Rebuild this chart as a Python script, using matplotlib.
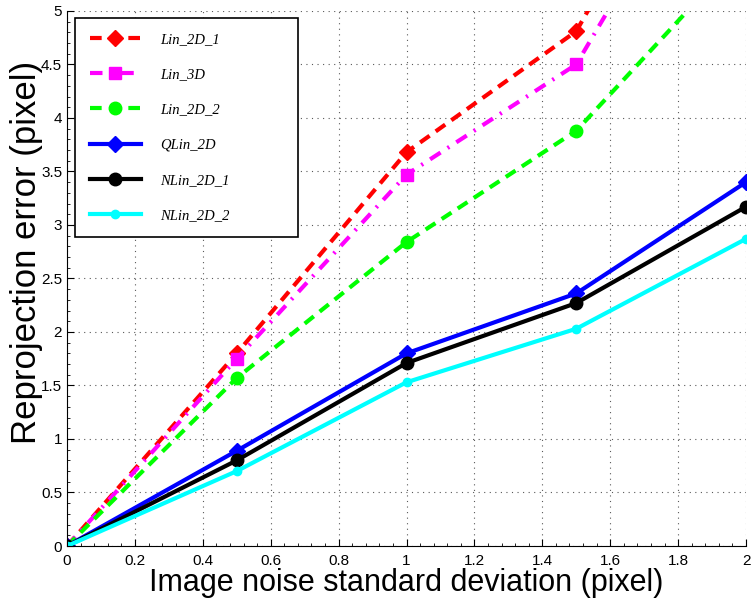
import matplotlib as mpl
import matplotlib.pyplot as plt
from matplotlib.ticker import MultipleLocator

# noise std (pixel)
noise = [0, 0.5, 1.0, 1.5, 2.0]

lin_2d_1 = [0, 1.80, 3.68, 4.81, 7.6]
lin_3d = [0, 1.75, 3.47, 4.50, 7.18]
lin_2d_2 = [0, 1.57, 2.84, 3.88, 5.59]
qlin_2d = [0, 0.89, 1.80, 2.36, 3.40]
nlin_2d_1 = [0, 0.80, 1.71, 2.27, 3.17]
nlin_2d_2 = [0, 0.70, 1.53, 2.03, 2.87]

labels = ["Lin_2D_1", "Lin_3D", "Lin_2D_2", "QLin_2D", "NLin_2D_1", "NLin_2D_2"]


def main():
    mpl.rcParams.update(
        {
            "font.family": ["Liberation Sans", "DejaVu Sans"],
            "font.size": 11,
            "xtick.direction": "in",
            "ytick.direction": "in",
        }
    )

    fig = plt.figure(figsize=(7.54, 6.06), dpi=100)
    ax = fig.add_axes([0.0889, 0.099, 0.9005, 0.883])

    lw = 3.0
    ax.plot(noise, lin_2d_1, color="red", ls=(0, (2.8, 1.8)), lw=lw,
            marker="D", ms=8, mfc="red", mec="red", label=labels[0])
    ax.plot(noise, lin_3d, color="magenta", ls=(0, (3, 2, 0.5, 2)), lw=lw,
            marker="s", ms=8, mfc="magenta", mec="magenta", label=labels[1])
    ax.plot(noise, lin_2d_2, color="#00ff00", ls=(0, (2.8, 1.8)), lw=lw,
            marker="o", ms=9, mfc="#00ff00", mec="#00ff00", label=labels[2])
    ax.plot(noise, qlin_2d, color="blue", ls="-", lw=lw,
            marker="D", ms=8, mfc="blue", mec="blue", label=labels[3])
    ax.plot(noise, nlin_2d_1, color="black", ls="-", lw=lw,
            marker="o", ms=9, mfc="black", mec="black", label=labels[4])
    ax.plot(noise, nlin_2d_2, color="cyan", ls="-", lw=lw,
            marker="o", ms=6, mfc="cyan", mec="cyan", label=labels[5])

    ax.set_xlim(0, 2)
    ax.set_ylim(0, 5)
    ax.xaxis.set_major_locator(MultipleLocator(0.2))
    ax.yaxis.set_major_locator(MultipleLocator(0.5))
    ax.xaxis.set_minor_locator(MultipleLocator(0.04))
    ax.yaxis.set_minor_locator(MultipleLocator(0.1))
    ax.set_xticklabels([f"{v:g}" for v in ax.get_xticks()])
    ax.set_yticklabels([f"{v:g}" for v in ax.get_yticks()])
    ax.tick_params(which="major", length=5, width=0.8)
    ax.tick_params(axis="x", which="major", pad=6)
    ax.tick_params(which="minor", length=2.5, width=0.6)

    ax.grid(True, which="major", color="0.35", ls=(0, (1, 4)), lw=0.8)
    for side in ("top", "right"):
        ax.spines[side].set_visible(False)

    ax.set_xlabel("Image noise standard deviation (pixel)", fontsize=22, labelpad=0)
    ax.set_ylabel("Reprojection error (pixel)", fontsize=25)
    ax.yaxis.set_label_coords(-0.036, 0.548)

    leg = ax.legend(
        loc="upper left",
        bbox_to_anchor=(0.0118, 0.5, 0.328, 0.487),
        mode="expand",
        borderaxespad=0,
        prop={"family": "Liberation Serif", "style": "italic", "size": 10.5},
        handlelength=3.5,
        handletextpad=1.35,
        labelspacing=1.52,
        borderpad=1.0,
        fancybox=False,
        framealpha=1,
        edgecolor="black",
    )
    leg.get_frame().set_linewidth(1.2)

    fig.savefig("out.png", dpi=100)
    plt.close(fig)


if __name__ == "__main__":
    main()
